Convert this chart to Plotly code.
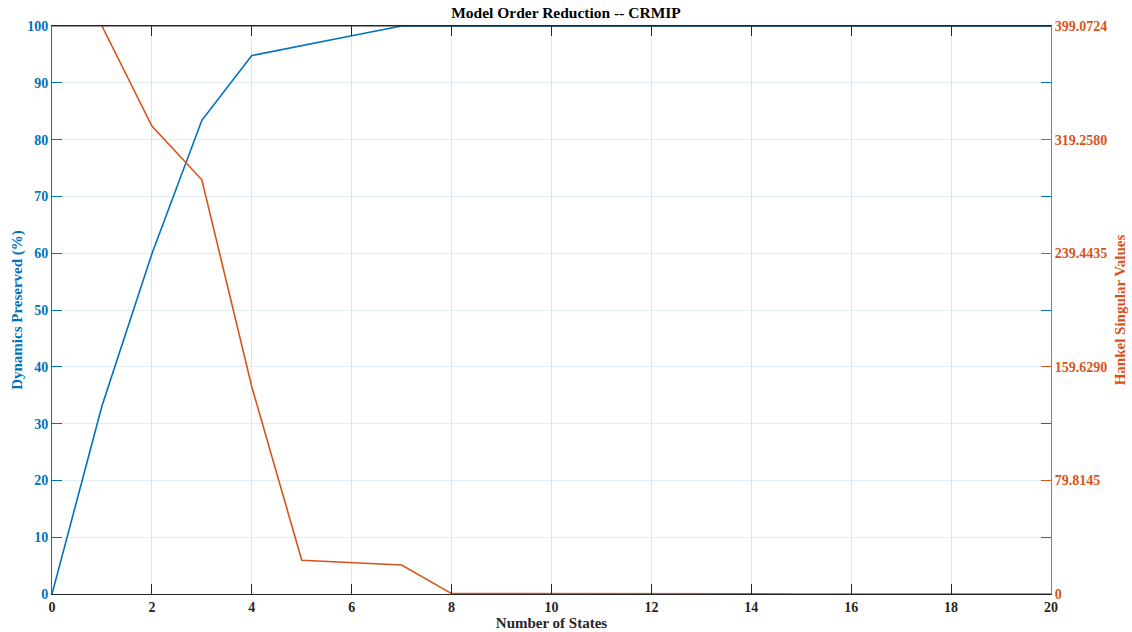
import plotly.graph_objects as go

states = list(range(0, 21))
dyn_preserved = [0, 33.1, 59.9, 83.4, 94.8, 96.6, 98.3, 100, 100, 100, 100, 100, 100, 100, 100, 100, 100, 100, 100, 100, 100]
hsv_states = list(range(1, 21))
hsv_values = [399.0724, 328.8, 291.0, 145.6, 23.7, 22.0, 20.4, 0.3, 0.2, 0.15, 0.1, 0.08, 0.06, 0.05, 0.04, 0.03, 0.02, 0.015, 0.01, 0.005]
right_ticks = [0, 79.8145, 159.6290, 239.4435, 319.2580, 399.0724]
right_labels = ["0", "79.8145", "159.6290", "239.4435", "319.2580", "399.0724"]

BLUE = "#0072BD"
ORANGE = "#D95319"
FONT = "Liberation Serif"

fig = go.Figure()
fig.add_trace(go.Scatter(x=states, y=dyn_preserved, mode="lines",
                         line=dict(color=BLUE, width=1.6), yaxis="y", showlegend=False))
fig.add_trace(go.Scatter(x=hsv_states, y=hsv_values, mode="lines",
                         line=dict(color=ORANGE, width=1.6), yaxis="y2", showlegend=False))

fig.update_layout(
    width=1132, height=632,
    margin=dict(l=52, r=81, t=26, b=38, autoexpand=False),
    plot_bgcolor="white", paper_bgcolor="white",
    font=dict(family=FONT, size=14, color="#262626"),
    title=dict(text="<b>Model Order Reduction -- CRMIP</b>", x=0.5, xanchor="center",
               y=1 - 13 / 632, yanchor="middle", font=dict(family=FONT, size=15.5, color="#000000")),
    xaxis=dict(range=[0, 20], tickmode="array", tickvals=list(range(0, 21, 2)),
               ticks="inside", ticklen=10, tickcolor="#262626", showline=True, linecolor="#262626",
               linewidth=1, mirror="ticks", showgrid=True, gridcolor="#E3E3E3", gridwidth=1,
               zeroline=False, automargin=False,
               tickfont=dict(family=FONT, size=14, color="#262626", weight="bold"),
               title=dict(text="Number of States", standoff=2,
                          font=dict(family=FONT, size=15, color="#262626", weight="bold"))),
    yaxis=dict(range=[0, 100], tickmode="array", tickvals=list(range(0, 101, 10)),
               ticks="inside", ticklen=10, tickcolor=BLUE, showline=True, linecolor=BLUE, linewidth=1,
               mirror="ticks", showgrid=True, gridcolor="#E1ECF5", gridwidth=1, zeroline=False,
               automargin=False,
               tickfont=dict(family=FONT, size=14, color=BLUE, weight="bold"),
               title=dict(text="Dynamics Preserved (%)", standoff=0,
                          font=dict(family=FONT, size=15, color=BLUE, weight="bold"))),
    yaxis2=dict(range=[0, 399.0724], overlaying="y", side="right", tickmode="array",
                tickvals=right_ticks, ticktext=right_labels, ticks="inside", ticklen=10,
                tickcolor=ORANGE, showline=True, linecolor="#B07060", linewidth=1,
                showgrid=False, zeroline=False, automargin=False,
                tickfont=dict(family=FONT, size=14, color=ORANGE, weight="bold"),
                title=dict(text="Hankel Singular Values", standoff=8,
                           font=dict(family=FONT, size=15, color=ORANGE, weight="bold"))),
)
fig.add_shape(type="line", xref="paper", yref="paper", x0=0, x1=1, y0=1, y1=1,
              line=dict(color="#262626", width=1))

fig.write_html("out.html")
